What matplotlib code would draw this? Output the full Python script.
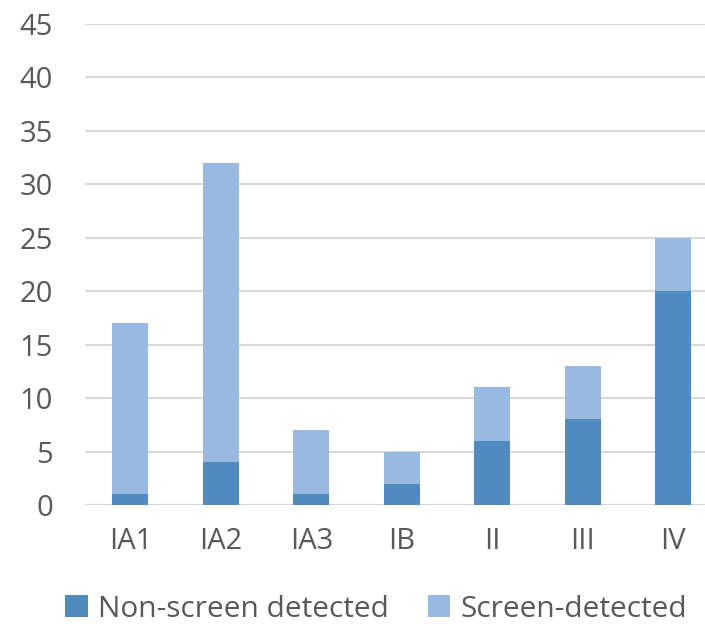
import matplotlib
matplotlib.use("Agg")
import matplotlib.pyplot as plt
import numpy as np

categories = ["IA1", "IA2", "IA3", "IB", "II", "III", "IV"]
non_screen = [1, 4, 1, 2, 6, 8, 20]
screen = [16, 28, 6, 3, 5, 5, 5]

dark_blue = "#4f8bbf"
light_blue = "#98b9e0"
text_grey = "#595959"

plt.rcParams['font.family'] = ['Open Sans', 'DejaVu Sans']

fig = plt.figure(figsize=(7.05, 6.24), dpi=100)
ax = fig.add_axes([85 / 705, 119 / 624, 620 / 705, 481 / 624])

x = np.arange(len(categories))
ax.bar(x, non_screen, width=0.4, color=dark_blue, label="Non-screen detected", zorder=3)
ax.bar(x, screen, width=0.4, bottom=non_screen, color=light_blue,
       label="Screen-detected", zorder=3)

ax.set_xlim(-0.5, 6.35)
ax.set_ylim(0, 45)
ax.set_yticks(np.arange(0, 46, 5))
ax.set_xticks(x)
ax.set_xticklabels(categories)

ax.grid(axis="y", color="#d9d9d9", linewidth=1.5, zorder=0)
for side in ["top", "right", "left", "bottom"]:
    ax.spines[side].set_visible(False)
ax.axhline(0, color="#d9d9d9", linewidth=1.5, zorder=2)

ax.tick_params(axis="both", length=0, labelsize=21, labelcolor=text_grey)
ax.tick_params(axis="y", pad=23)
ax.tick_params(axis="x", pad=16)

fig.legend(loc="center", bbox_to_anchor=(0.534, 0.024), ncol=2, frameon=False,
           fontsize=21.5, labelcolor=text_grey, handlelength=0.75, handleheight=0.75,
           handletextpad=0.35, columnspacing=1.3, borderaxespad=0)

fig.savefig("out.png", dpi=100)
